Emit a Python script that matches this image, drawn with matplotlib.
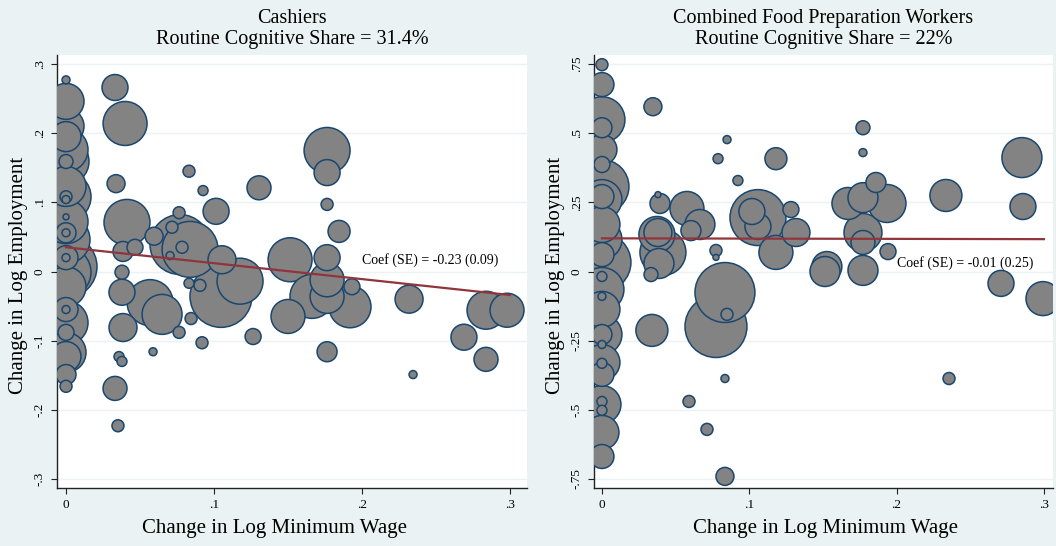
import matplotlib.pyplot as plt
import numpy as np

plt.rcParams['font.family'] = ['Liberation Serif', 'DejaVu Serif']

BG = '#eaf2f3'
FACE = '#838383'
EDGE = '#1a476f'
LINE = '#90353b'

# --- Cashiers: change in log min wage, change in log employment, weight
cash_x = [0, 0, 0, 0, 0, 0, 0, 0, 0, 0, 0, 0, 0, 0, 0, 0, 0, 0, 0, 0, 0, 0, 0, 0, 0, 0, 0, 0, 0,
          0.0331, 0.0399, 0.0338, 0.0412, 0.0466, 0.0385, 0.0378, 0.0595, 0.0831, 0.0926,
          0.1014, 0.0764, 0.0770, 0.0838, 0.0716, 0.0784, 0.0703, 0.1054, 0.1047, 0.1176,
          0.1514, 0.0378, 0.0568, 0.0649, 0.0385, 0.0764, 0.0845, 0.0831, 0.0905, 0.0919,
          0.0588, 0.0358, 0.0378, 0.0331, 0.0351, 0.1264, 0.1500, 0.1304, 0.1764, 0.1764,
          0.1764, 0.1845, 0.1764, 0.1764, 0.1764, 0.1919, 0.1932, 0.1662, 0.1764, 0.2318,
          0.2345, 0.2689, 0.2838, 0.2980, 0.2838]
cash_y = [0.277, 0.246, 0.210, 0.195, 0.176, 0.159, 0.159, 0.123, 0.108, 0.104, 0.108, 0.079,
          0.072, 0.056, 0.056, 0.046, 0.020, 0.020, 0.007, -0.001, -0.022, -0.055, -0.055,
          -0.074, -0.088, -0.117, -0.123, -0.149, -0.166,
          0.266, 0.214, 0.127, 0.071, 0.035, 0.029, -0.001, 0.051, 0.145, 0.117,
          0.087, 0.085, 0.039, 0.032, 0.064, 0.035, 0.023, 0.017, -0.036, -0.014,
          0.017, -0.030, -0.045, -0.062, -0.081, -0.088, -0.068, -0.017, -0.020, -0.103,
          -0.116, -0.123, -0.130, -0.169, -0.223, -0.094, -0.065, 0.121, 0.175, 0.143,
          0.097, 0.058, 0.020, -0.012, -0.036, -0.051, -0.022, -0.036, -0.116, -0.040,
          -0.149, -0.095, -0.056, -0.056, -0.127]
cash_w = [16, 324, 324, 225, 484, 529, 49, 400, 625, 16, 36, 9, 484, 100, 16, 576, 144, 16,
          961, 625, 400, 144, 16, 484, 64, 400, 225, 100, 36,
          169, 484, 81, 529, 64, 100, 49, 81, 36, 25,
          169, 36, 900, 784, 36, 36, 16, 196, 961, 529,
          484, 169, 529, 400, 196, 36, 36, 25, 36, 36,
          16, 25, 25, 144, 36, 64, 289, 144, 529, 169,
          36, 121, 169, 289, 289, 441, 64, 484, 100, 196,
          16, 169, 361, 289, 144]
cash_b0, cash_b1 = 0.035, -0.23
cash_coef = 'Coef (SE) = -0.23 (0.09)'

# --- Combined Food Preparation Workers
food_x = [0, 0, 0, 0, 0, 0, 0, 0, 0, 0, 0, 0, 0, 0, 0, 0, 0, 0, 0, 0, 0, 0, 0, 0, 0, 0, 0, 0,
          0.0346, 0.0849, 0.0788, 0.1181, 0.0923, 0.0380, 0.0394, 0.0577, 0.0665, 0.0604,
          0.0373, 0.0380, 0.0414, 0.0387, 0.0333, 0.1059, 0.1018, 0.1059, 0.1283, 0.1317,
          0.1181, 0.0774, 0.0774, 0.0835, 0.0774, 0.0849, 0.0339, 0.0835, 0.0591, 0.0713,
          0.0835, 0.1514, 0.1527, 0.1772, 0.1772, 0.1860, 0.1670, 0.1772, 0.1935, 0.1772,
          0.1772, 0.1942, 0.1772, 0.2335, 0.2851, 0.2858, 0.2709, 0.2994, 0.2356]
food_y = [0.748, 0.676, 0.549, 0.520, 0.441, 0.387, 0.307, 0.260, 0.271, 0.170, 0.116, 0.033,
          0.061, -0.018, -0.090, -0.065, -0.137, -0.228, -0.228, -0.264, -0.329, -0.332,
          -0.372, -0.481, -0.470, -0.502, -0.582, -0.669,
          0.596, 0.477, 0.408, 0.408, 0.329, 0.278, 0.246, 0.228, 0.170, 0.148,
          0.134, 0.141, 0.069, 0.029, -0.011, 0.195, 0.217, 0.163, 0.224, 0.141,
          0.069, 0.076, 0.051, -0.076, -0.199, -0.155, -0.213, -0.387, -0.470, -0.571,
          -0.741, 0.000, 0.018, 0.520, 0.430, 0.322, 0.246, 0.267, 0.246, 0.141,
          0.105, 0.072, 0.004, 0.275, 0.412, 0.235, -0.043, -0.098, -0.387]
food_w = [36, 144, 529, 100, 225, 64, 729, 400, 144, 324, 400, 841,
          144, 25, 16, 484, 324, 400, 100, 16, 324, 25,
          144, 361, 25, 25, 289, 144,
          81, 16, 25, 121, 25, 9, 100, 289, 225, 100,
          324, 196, 529, 225, 49, 784, 169, 169, 64, 196,
          289, 36, 9, 900, 961, 36, 256, 16, 36, 36,
          81, 225, 225, 49, 16, 100, 256, 225, 361, 361,
          144, 64, 225, 256, 400, 169, 169, 289, 36]
food_b0, food_b1 = 0.12, -0.01
food_coef = 'Coef (SE) = -0.01 (0.25)'

fig = plt.figure(figsize=(10.56, 5.46), dpi=100, facecolor=BG)
ax1 = fig.add_axes([57 / 1056, 58 / 546, 470 / 1056, 433 / 546])
ax2 = fig.add_axes([594 / 1056, 58 / 546, 459 / 1056, 433 / 546])

panels = [
    (ax1, cash_x, cash_y, cash_w, cash_b0, cash_b1, cash_coef, (-0.0061, 0.3115), (-0.313, 0.313),
     [-0.3, -0.2, -0.1, 0, 0.1, 0.2, 0.3], ['-.3', '-.2', '-.1', '0', '.1', '.2', '.3'],
     ('Cashiers', 'Routine Cognitive Share = 31.4%'), 0.462, 0.016, -0.062),
    (ax2, food_x, food_y, food_w, food_b0, food_b1, food_coef, (-0.0054, 0.3062), (-0.783, 0.783),
     [-0.75, -0.5, -0.25, 0, 0.25, 0.5, 0.75], ['-.75', '-.5', '-.25', '0', '.25', '.5', '.75'],
     ('Combined Food Preparation Workers', 'Routine Cognitive Share = 22%'), 0.505, 0.032, -0.063),
]

for ax, x, y, w, b0, b1, coef, xl, yl, yt, ytl, ttl, xlab_x, ty, ylab_x in panels:
    x = np.array(x)
    y = np.array(y)
    w = np.array(w, dtype=float)
    order = np.argsort(-w)
    ax.set_facecolor('white')
    ax.scatter(x[order], y[order], s=2.07 * w[order], c=FACE, edgecolors=EDGE,
               linewidths=1.1, zorder=3)
    xx = np.array([0, 0.3])
    ax.plot(xx, b0 + b1 * xx, color=LINE, lw=1.6, zorder=4)
    ax.text(0.2, ty, coef, fontsize=10, ha='left', va='center', zorder=5)

    ax.set_xlim(xl)
    ax.set_ylim(yl)
    ax.set_xticks([0, 0.1, 0.2, 0.3])
    ax.set_xticklabels(['0', '.1', '.2', '.3'])
    ax.set_yticks(yt)
    ax.set_yticklabels(ytl, rotation=90, va='center')
    ax.tick_params(labelsize=9.5, length=4, width=0.8, color='#222222', pad=4)
    ax.grid(axis='y', color='#eaf2f3', lw=1.0, zorder=0)
    ax.set_axisbelow(True)
    for s in ['top', 'right']:
        ax.spines[s].set_visible(False)
    for s in ['left', 'bottom']:
        ax.spines[s].set_color('#222222')
        ax.spines[s].set_linewidth(1.0)

    ax.set_xlabel('Change in Log Minimum Wage', fontsize=15)
    ax.set_ylabel('Change in Log Employment', fontsize=15)
    ax.xaxis.set_label_coords(xlab_x, -0.072)
    ax.yaxis.set_label_coords(ylab_x, 0.49)
    ax.text(0.5, 1.085, ttl[0], transform=ax.transAxes, fontsize=14.5, ha='center', va='center')
    ax.text(0.5, 1.035, ttl[1], transform=ax.transAxes, fontsize=14.5, ha='center', va='center')

fig.savefig('out.png', dpi=100, facecolor=BG)
